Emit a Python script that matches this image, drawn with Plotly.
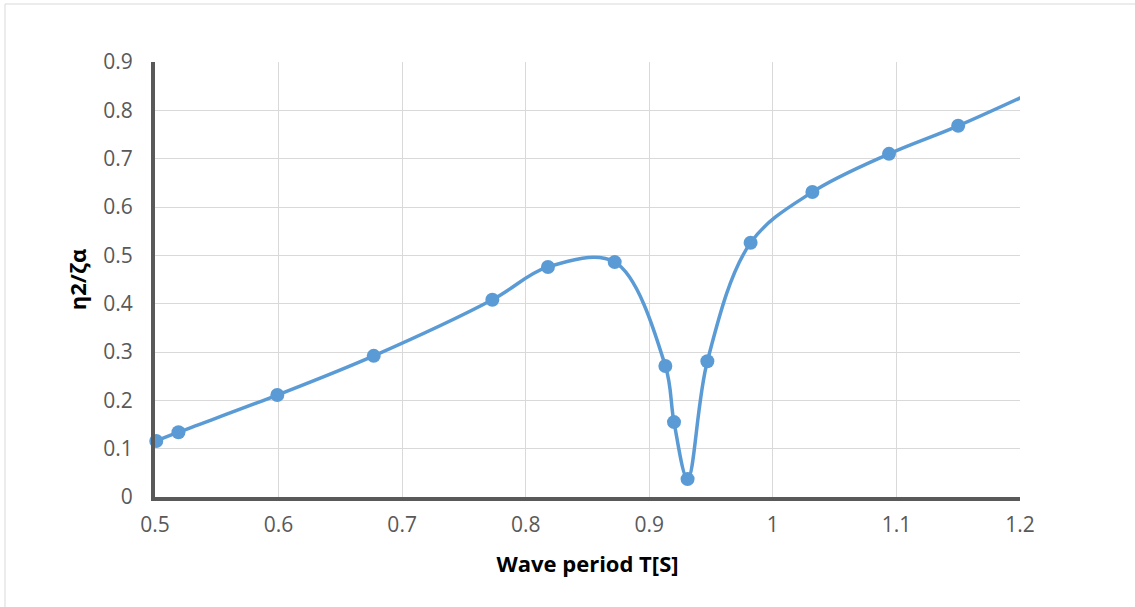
import plotly.graph_objects as go

# Data
period = [0.501, 0.519, 0.599, 0.677, 0.773, 0.818, 0.872, 0.913, 0.920, 0.931, 0.947, 0.982, 1.032, 1.094, 1.150, 1.250]
ratio  = [0.116, 0.134, 0.211, 0.292, 0.408, 0.476, 0.486, 0.271, 0.155, 0.037, 0.281, 0.526, 0.631, 0.710, 0.768, 0.885]
shown  = [True] * 15 + [False]   # last point lies beyond the axis range (line only)

x_ticks = [0.5, 0.6, 0.7, 0.8, 0.9, 1.0, 1.1, 1.2]
x_labels = ["0.5", "0.6", "0.7", "0.8", "0.9", "1", "1.1", "1.2"]
y_ticks = [0, 0.1, 0.2, 0.3, 0.4, 0.5, 0.6, 0.7, 0.8, 0.9]
y_labels = ["0", "0.1", "0.2", "0.3", "0.4", "0.5", "0.6", "0.7", "0.8", "0.9"]

W, H = 1135, 607
L, R, T, B = 155, 115, 62, 110
pw, ph = W - L - R, H - T - B

blue = "#5b9bd5"
fig = go.Figure()
fig.add_trace(go.Scatter(
    x=period, y=ratio, mode="lines",
    line=dict(color=blue, width=3.5, shape="spline", smoothing=1.0),
    hoverinfo="skip", showlegend=False))
fig.add_trace(go.Scatter(
    x=[p for p, s in zip(period, shown) if s],
    y=[r for r, s in zip(ratio, shown) if s],
    mode="markers", marker=dict(color=blue, size=14),
    cliponaxis=False, showlegend=False))

font = "Open Sans, Liberation Sans, sans-serif"
tickfont = dict(family=font, size=21, color="#595959")
titlefont = dict(family=font, size=22, color="#000000")
fig.update_layout(
    width=W, height=H,
    margin=dict(l=L, r=R, t=T, b=B),
    paper_bgcolor="white", plot_bgcolor="white",
    font=dict(family=font, color="#595959", size=21),
    xaxis=dict(range=[0.5, 1.2], tickvals=x_ticks, ticktext=x_labels,
               tickfont=tickfont,
               showgrid=True, gridcolor="#d9d9d9", gridwidth=1,
               showline=True, linecolor="#595959", linewidth=4,
               zeroline=False, ticks="", ticklabelstandoff=6,
               title=dict(text="<b>Wave period T[S]</b>", standoff=20,
                          font=titlefont)),
    yaxis=dict(range=[0, 0.9], tickvals=y_ticks, ticktext=y_labels,
               tickfont=tickfont,
               showgrid=True, gridcolor="#d9d9d9", gridwidth=1,
               showline=True, linecolor="#595959", linewidth=4,
               zeroline=False, ticks="", ticklabelstandoff=14,
               title=dict(text="<b>η2/ζα</b>", standoff=12,
                          font=titlefont)),
)
# chart border (left and top visible)
fig.add_shape(type="rect", xref="paper", yref="paper",
              x0=(5 - L) / pw, x1=(W + 10 - L) / pw,
              y0=-(H + 10 - T - ph) / ph, y1=1 + (T - 4) / ph,
              line=dict(color="#d9d9d9", width=1), layer="below")
fig.write_html("out.html")
